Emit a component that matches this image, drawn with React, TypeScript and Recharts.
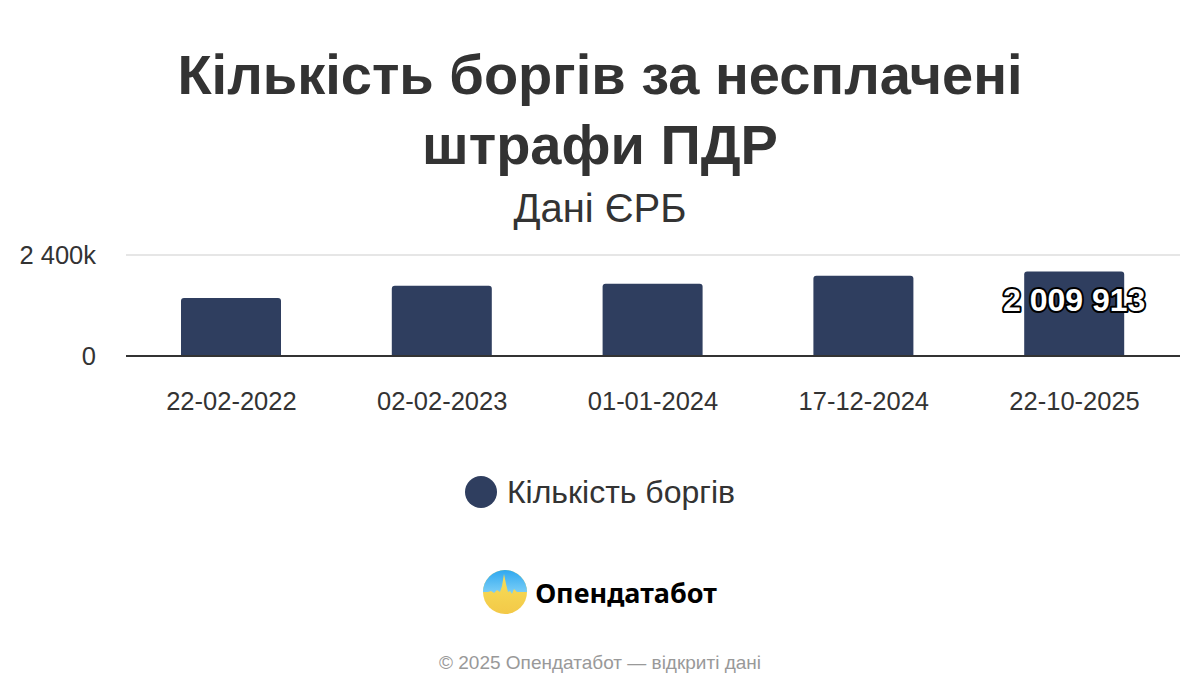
import React from 'react'
import { BarChart, Bar, XAxis, YAxis, CartesianGrid, LabelList } from 'recharts'

// Дата зрізу ЄРБ
const dates = ['22-02-2022', '02-02-2023', '01-01-2024', '17-12-2024', '22-10-2025']
// Кількість боргів (оцінка з графіка, крім останнього значення)
const debts = [1377000, 1668000, 1715000, 1904000, 2009913]
const yTicks = [0, 2400000]

const FONT = '"Liberation Sans", Arial, sans-serif'
const BAR_COLOR = '#2f3e5f'

const chartData = dates.map((d, i) => ({ date: d, debts: debts[i] }))

function fmtSpaces(v: number): string {
    return String(v).replace(/\B(?=(\d{3})+(?!\d))/g, ' ')
}

function fmtTick(v: number): string {
    if (v === 0) return '0'
    return `${fmtSpaces(Math.round(v / 1000))}k`
}

// only the latest bar carries a value label
function lastLabel(props: any) {
    const { x, y, width, index, value } = props
    if (index !== debts.length - 1) return null
    return (
        <text
            x={x + width / 2}
            y={y + 31}
            textAnchor="middle"
            dominantBaseline="middle"
            fontFamily={FONT}
            fontSize={32}
            fontWeight="bold"
            fill="#fff"
            stroke="#000"
            strokeWidth={4}
            strokeLinejoin="round"
            paintOrder="stroke"
        >
            {fmtSpaces(value)}
        </text>
    )
}

export default function App() {
    return (
        <div style={{ position: 'absolute', left: 0, top: 0, width: 1200, height: 700, background: '#fff', fontFamily: FONT, color: '#333' }}>
            {/* Title */}
            <div style={{ position: 'absolute', top: 40, left: 0, width: 1200, textAlign: 'center', fontSize: 56, fontWeight: 'bold', lineHeight: '70px' }}>
                Кількість боргів за несплачені<br />штрафи ПДР
            </div>
            <div style={{ position: 'absolute', top: 184, left: 0, width: 1200, textAlign: 'center', fontSize: 40, lineHeight: '48px' }}>
                Дані ЄРБ
            </div>

            <div style={{ position: 'absolute', top: 0, left: 0 }}>
                <BarChart width={1200} height={440} data={chartData} margin={{ top: 255, right: 20, left: 0, bottom: 24 }}>
                    <CartesianGrid vertical={false} stroke="#e6e6e6" strokeWidth={2} />
                    <XAxis
                        dataKey="date"
                        height={60}
                        tickLine={false}
                        axisLine={{ stroke: '#333', strokeWidth: 2 }}
                        tickMargin={30}
                        tick={{ fill: '#333', fontSize: 25.5, fontFamily: FONT }}
                    />
                    <YAxis
                        width={126}
                        domain={[0, 2400000]}
                        ticks={yTicks}
                        tickFormatter={fmtTick}
                        axisLine={false}
                        tickLine={false}
                        tickMargin={24}
                        tick={{ fill: '#333', fontSize: 25.5, fontFamily: FONT }}
                    />
                    <Bar dataKey="debts" fill={BAR_COLOR} barSize={100} radius={[3, 3, 0, 0]} isAnimationActive={false}>
                        <LabelList dataKey="debts" content={lastLabel} />
                    </Bar>
                </BarChart>
            </div>

            {/* Legend */}
            <div style={{ position: 'absolute', top: 472, left: 0, width: 1200, height: 40, display: 'flex', justifyContent: 'center', alignItems: 'center', fontSize: 32 }}>
                <span style={{ display: 'inline-block', width: 32, height: 32, borderRadius: '50%', background: BAR_COLOR, marginRight: 10 }} />
                <span>Кількість боргів</span>
            </div>

            {/* Brand */}
            <div style={{ position: 'absolute', top: 570, left: 0, width: 1200, display: 'flex', justifyContent: 'center', alignItems: 'center' }}>
                <svg width={44} height={44} viewBox="0 0 44 44" style={{ marginRight: 8 }}>
                    <defs>
                        <linearGradient id="logoTop" x1="0" y1="0" x2="0" y2="1">
                            <stop offset="0%" stopColor="#2fa8f0" />
                            <stop offset="100%" stopColor="#7fd0f7" />
                        </linearGradient>
                        <linearGradient id="logoBottom" x1="0" y1="0" x2="0" y2="1">
                            <stop offset="0%" stopColor="#f7e05a" />
                            <stop offset="100%" stopColor="#f3c948" />
                        </linearGradient>
                        <clipPath id="logoClip"><circle cx={22} cy={22} r={22} /></clipPath>
                    </defs>
                    <g clipPath="url(#logoClip)">
                        <rect x={0} y={0} width={44} height={44} fill="url(#logoBottom)" />
                        <path d="M0 0 H44 V22 H34 L31 19 L29 24 L27 21 L25 22 L23 14 L21 4 L19 16 L17 22 L14 20 L11 23 L8 21 L5 22 H0 Z" fill="url(#logoTop)" />
                    </g>
                </svg>
                <span style={{ fontFamily: '"Noto Sans", sans-serif', fontWeight: 'bold', fontSize: 27, color: '#000' }}>Опендатабот</span>
            </div>

            {/* Footer */}
            <div style={{ position: 'absolute', top: 652, left: 0, width: 1200, textAlign: 'center', fontSize: 19, color: '#999' }}>
                © 2025 Опендатабот — відкриті дані
            </div>
        </div>
    )
}
